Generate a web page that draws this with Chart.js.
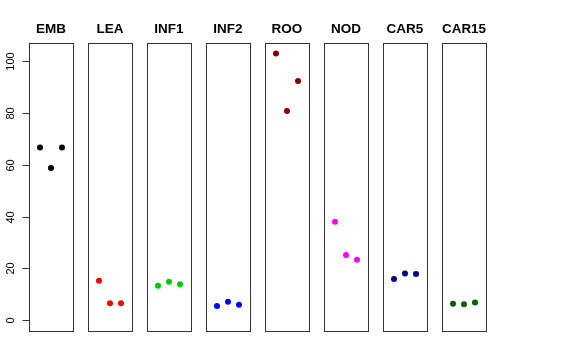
<!DOCTYPE html>
<html>
<head>
<meta charset="utf-8">
<script src="https://cdn.jsdelivr.net/npm/chart.js@4/dist/chart.umd.min.js"></script>
<style>
  html, body { margin: 0; padding: 0; background: #fff; }
  #wrap { position: relative; width: 576px; height: 360px; overflow: hidden; }
  #wrap canvas { position: absolute; top: 0; }
</style>
</head>
<body>
<div id="wrap"></div>
<script>
// panel names and colours
const tissues = ['EMB', 'LEA', 'INF1', 'INF2', 'ROO', 'NOD', 'CAR5', 'CAR15'];
const colours = ['#000000', '#FF0000', '#00CD00', '#0000FF', '#8B0000', '#FF00FF', '#00008B', '#006400'];
const replicate = [1, 2, 3];

// values per replicate
const EMB = [66.6, 58.7, 66.6];
const LEA = [15.3, 6.6, 6.6];
const INF1 = [13.3, 14.9, 13.9];
const INF2 = [5.5, 7.2, 6.0];
const ROO = [102.8, 80.7, 92.2];
const NOD = [38.0, 25.2, 23.4];
const CAR5 = [15.9, 18.1, 17.9];
const CAR15 = [6.4, 6.2, 6.9];
const values = [EMB, LEA, INF1, INF2, ROO, NOD, CAR5, CAR15];

const yTicks = [0, 20, 40, 60, 80, 100];
const yMin = -4.1, yMax = 106.8;

const panelBox = {
  id: 'panelBox',
  afterDraw(chart) {
    const a = chart.chartArea, ctx = chart.ctx;
    ctx.save();
    ctx.strokeStyle = '#333';
    ctx.lineWidth = 1;
    ctx.strokeRect(Math.round(a.left) + 0.5, Math.round(a.top) + 0.5,
                   Math.round(a.right - a.left), Math.round(a.bottom - a.top));
    ctx.restore();
  }
};

const leftAxis = {
  id: 'leftAxis',
  afterDraw(chart) {
    const a = chart.chartArea, ctx = chart.ctx, y = chart.scales.y;
    ctx.save();
    ctx.strokeStyle = '#333';
    ctx.fillStyle = '#000';
    ctx.lineWidth = 1;
    ctx.font = '11px "Liberation Sans", Arial, sans-serif';
    ctx.textAlign = 'center';
    ctx.textBaseline = 'middle';
    const x0 = Math.round(a.left) + 0.5;
    yTicks.forEach(v => {
      const py = Math.round(y.getPixelForValue(v)) + 0.5;
      ctx.beginPath();
      ctx.moveTo(x0, py);
      ctx.lineTo(x0 - 7, py);
      ctx.stroke();
      ctx.save();
      ctx.translate(11, py);
      ctx.rotate(-Math.PI / 2);
      ctx.fillText(String(v), 0, 0);
      ctx.restore();
    });
    ctx.restore();
  }
};

const wrap = document.getElementById('wrap');
tissues.forEach((name, i) => {
  const panelLeft = 29 + 59 * i, panelW = 44, side = 7;
  const first = i === 0;
  const canvas = document.createElement('canvas');
  const left = first ? 0 : panelLeft - side;
  const padLeft = first ? panelLeft : side;
  canvas.width = padLeft + panelW + side;
  canvas.height = 360;
  canvas.style.left = left + 'px';
  wrap.appendChild(canvas);

  new Chart(canvas, {
    type: 'scatter',
    data: {
      datasets: [{
        data: replicate.map((r, k) => ({ x: r, y: values[i][k] })),
        backgroundColor: colours[i],
        borderColor: colours[i],
        pointRadius: 3,
        pointHoverRadius: 3,
        borderWidth: 0
      }]
    },
    options: {
      responsive: false,
      animation: false,
      layout: { padding: { left: padLeft, right: side, top: 0, bottom: 29 } },
      scales: {
        x: { type: 'linear', min: 0, max: 4, display: false },
        y: { type: 'linear', min: yMin, max: yMax, display: false }
      },
      plugins: {
        legend: { display: false },
        tooltip: { enabled: false },
        title: {
          display: true,
          text: name,
          color: '#000',
          font: { family: '"Liberation Sans", Arial, sans-serif', size: 13.5, weight: 'bold', lineHeight: 1.2 },
          padding: { top: 21, bottom: 6 }
        }
      }
    },
    plugins: first ? [panelBox, leftAxis] : [panelBox]
  });
});
</script>
</body>
</html>
